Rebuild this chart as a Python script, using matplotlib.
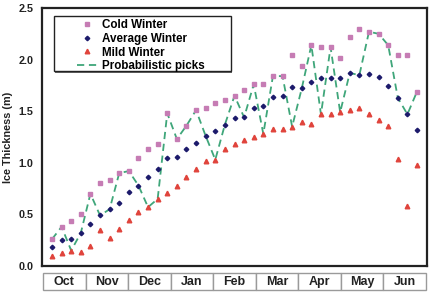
import matplotlib
matplotlib.use("Agg")
import matplotlib.pyplot as plt
import numpy as np

plt.rcParams['font.family'] = ['Liberation Sans', 'DejaVu Sans']

months = ['Oct', 'Nov', 'Dec', 'Jan', 'Feb', 'Mar', 'Apr', 'May', 'Jun']

cold = [0.26, 0.38, 0.44, 0.50, 0.70, 0.80, 0.83, 0.90, 0.92, 1.05,
        1.13, 1.18, 1.48, 1.23, 1.36, 1.51, 1.53, 1.58, 1.61, 1.65,
        1.71, 1.76, 1.76, 1.84, 1.84, 2.04, 1.94, 2.14, 2.12, 2.12,
        2.02, 2.22, 2.30, 2.27, 2.25, 2.14, 2.04, 2.04, 1.69]
average = [0.18, 0.25, 0.26, 0.32, 0.41, 0.49, 0.55, 0.61, 0.72, 0.78,
           0.86, 0.94, 1.05, 1.06, 1.13, 1.19, 1.26, 1.31, 1.37, 1.43,
           1.44, 1.53, 1.55, 1.64, 1.65, 1.73, 1.72, 1.78, 1.82, 1.82,
           1.82, 1.87, 1.85, 1.86, 1.83, 1.74, 1.63, 1.47, 1.32]
mild = [0.10, 0.13, 0.15, 0.14, 0.19, 0.35, 0.27, 0.36, 0.45, 0.52,
        0.57, 0.65, 0.71, 0.78, 0.86, 0.94, 1.02, 1.03, 1.13, 1.18,
        1.22, 1.25, 1.28, 1.33, 1.33, 1.35, 1.40, 1.38, 1.47, 1.47,
        1.49, 1.51, 1.53, 1.47, 1.41, 1.36, 1.04, 0.58, 0.98]
picks = [0.26, 0.38, 0.15, 0.32, 0.70, 0.49, 0.55, 0.90, 0.92, 0.78,
         0.57, 0.65, 1.48, 1.23, 1.36, 1.51, 1.26, 1.03, 1.37, 1.65,
         1.44, 1.76, 1.28, 1.84, 1.84, 1.35, 1.72, 2.14, 1.47, 2.12,
         1.49, 1.87, 1.85, 2.27, 2.25, 2.14, 1.63, 1.47, 1.69]
yticks = [0.0, 0.5, 1.0, 1.5, 2.0, 2.5]

weeks = np.arange(len(cold))

fig = plt.figure(figsize=(4.31, 2.92), dpi=100)
AX_L, AX_R, AX_T, AX_B = 42, 427, 8, 266
AW, AH = AX_R - AX_L, AX_B - AX_T
ax = fig.add_axes([AX_L/431, 1-AX_B/292, AW/431, AH/292])

c_cold = '#C67CB4'
c_avg = '#1C1A6B'
c_mild = '#E0443C'
c_line = '#3FA67A'

ax.plot(weeks, picks, ls=(0, (4, 2.6)), color=c_line, lw=1.3, zorder=2,
        label='Probabilistic picks')
ax.plot(weeks, cold, ls='none', marker='s', ms=3.2, color=c_cold, zorder=3,
        label='Cold Winter')
ax.plot(weeks, average, ls='none', marker='D', ms=2.3, color=c_avg, zorder=3,
        label='Average Winter')
ax.plot(weeks, mild, ls='none', marker='^', ms=3.3, color=c_mild, zorder=3,
        label='Mild Winter')

ax.set_xlim(-1.04, len(cold) - 1 + 1.04)
ax.set_ylim(0, 2.5)
ax.set_yticks(yticks)
ax.set_yticklabels([f'{v:.1f}' for v in yticks], fontweight='bold', fontsize=7.8,
                   color='#222222')
ax.set_xticks([])
ax.tick_params(axis='y', length=0, pad=6)
for s in ax.spines.values():
    s.set_linewidth(1.6)
    s.set_color('#222222')
ax.set_ylabel('Ice Thickness (m)', fontweight='bold', fontsize=7.8, labelpad=4,
              color='#222222')

# legend frame drawn by hand (wide horizontal padding like the reference)
def fx(px):
    return (px - AX_L) / AW

def fy(py):
    return 1 - (py - AX_T) / AH

lx0, lx1, ly0, ly1 = 54, 231, 16, 71
ax.add_patch(plt.Rectangle((fx(lx0 + 1.5), fy(ly1 + 1.5)), fx(lx1) - fx(lx0),
                           fy(ly0) - fy(ly1), transform=ax.transAxes,
                           facecolor='#666666', edgecolor='none', zorder=4))
ax.add_patch(plt.Rectangle((fx(lx0), fy(ly1)), fx(lx1) - fx(lx0),
                           fy(ly0) - fy(ly1), transform=ax.transAxes,
                           facecolor='white', edgecolor='#222222', lw=1.0, zorder=5))

handles, labels = ax.get_legend_handles_labels()
order = [1, 2, 3, 0]
leg = ax.legend([handles[i] for i in order], [labels[i] for i in order],
                loc='upper left', bbox_to_anchor=(fx(77), fy(19.5)),
                frameon=False, prop={'weight': 'bold', 'size': 8.4},
                handlelength=1.8, handletextpad=0.35, borderpad=0,
                labelspacing=0.13, borderaxespad=0)
leg.set_zorder(6)

# month bar
mx = fig.add_axes([43/431, 1-290/292, 383/431, 17/292])
mx.set_xlim(0, len(months))
mx.set_ylim(0, 1)
mx.axis('off')
for i, m in enumerate(months):
    mx.add_patch(plt.Rectangle((i, 0), 1, 1, facecolor='white', edgecolor='#9a9a9a',
                               lw=1.0, clip_on=False))
    mx.text(i + 0.5, 0.48, m, ha='center', va='center', fontweight='bold',
            fontsize=9, color='#222222')

fig.savefig('out.png', dpi=100)
